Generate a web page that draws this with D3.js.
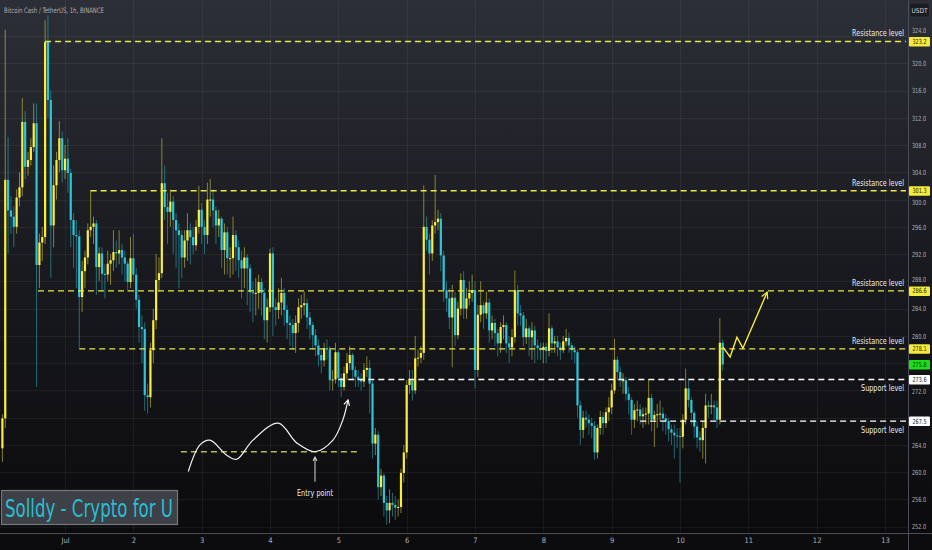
<!DOCTYPE html>
<html>
<head>
<meta charset="utf-8">
<script src="https://cdn.jsdelivr.net/npm/d3@7/dist/d3.min.js"></script>
<style>
  body { margin: 0; background: #000; }
  svg { display: block; }
</style>
</head>
<body>
<div id="chart"></div>
<script>
// ---- data ----
const symbolTitle = "Bitcoin Cash / TetherUS, 1h, BINANCE";
const quoteCurrency = "USDT";
const watermark = "Solldy - Crypto for U";
const firstCandle = Date.UTC(2023, 5, 30, 2); // 1h candles from here
const firstOpen = 263.5;

const closes = [
  267.9, 302.9, 298.4, 297.5, 296.0, 300.3, 301.8, 311.4, 304.8, 305.8,
  307.7, 311.2, 290.4, 293.7, 294.5, 323.1, 314.6, 296.2, 302.1, 305.8,
  309.0, 304.3, 306.0, 303.9, 297.0, 294.8, 294.6, 285.7, 289.5, 291.5,
  295.5, 296.0, 296.5, 290.1, 292.1, 289.1, 289.0, 290.6, 291.1, 292.3,
  292.1, 292.6, 291.5, 290.6, 287.9, 291.4, 289.0, 285.3, 281.3, 281.0,
  271.3, 271.0, 277.9, 282.3, 288.2, 289.2, 302.4, 298.9, 298.2, 299.7,
  297.0, 295.5, 294.8, 291.5, 294.0, 295.5, 294.5, 293.3, 296.0, 298.5,
  296.0, 294.8, 300.0, 300.0, 298.4, 296.2, 297.2, 292.6, 295.2, 291.4,
  291.4, 294.8, 293.0, 291.1, 289.9, 291.5, 289.9, 286.4, 286.3, 286.3,
  287.9, 286.3, 282.3, 284.2, 292.1, 284.2, 283.8, 284.9, 286.3, 283.8,
  281.9, 281.6, 280.4, 281.9, 284.2, 284.5, 284.8, 282.7, 281.6, 280.1,
  278.6, 277.2, 276.4, 278.2, 278.0, 273.5, 273.6, 277.6, 273.8, 272.5,
  274.5, 276.0, 277.2, 275.0, 274.0, 273.5, 273.3, 275.0, 275.3, 273.0,
  264.2, 265.5, 257.8, 259.5, 255.5, 254.4, 255.5, 255.2, 254.8, 254.9,
  259.9, 262.9, 272.8, 273.5, 272.0, 276.7, 276.8, 277.5, 296.0, 294.1,
  292.1, 296.2, 296.7, 297.2, 291.8, 286.7, 285.5, 282.7, 285.6, 280.1,
  284.0, 288.2, 284.0, 285.5, 286.3, 286.7, 275.0, 283.1, 284.5, 283.3,
  284.9, 280.8, 281.9, 280.4, 278.9, 281.3, 281.6, 278.9, 278.3, 279.8,
  286.7, 283.3, 283.0, 279.8, 281.1, 279.8, 280.8, 278.6, 278.2, 277.9,
  278.4, 277.8, 281.1, 278.9, 279.2, 278.3, 277.9, 279.2, 279.7, 278.6,
  277.9, 277.6, 269.8, 266.2, 268.0, 267.7, 267.2, 266.8, 262.9, 266.5,
  268.1, 267.2, 268.8, 269.5, 272.0, 276.5, 274.7, 273.5, 273.5, 271.5,
  270.6, 267.7, 269.1, 269.2, 268.2, 268.5, 268.6, 270.9, 267.7, 268.4,
  268.5, 268.6, 267.9, 267.5, 266.3, 265.8, 265.4, 265.3, 265.2, 267.7,
  272.3, 270.6, 268.7, 266.7, 265.1, 264.7, 266.5, 269.8, 269.6, 269.8,
  269.5, 267.7, 279.0, 275.8
];
const highs = [
  268.5, 324.9, 309.2, 300.5, 299.0, 301.5, 304.0, 314.9, 313.0, 307.0,
  309.0, 314.1, 314.1, 295.0, 296.0, 326.3, 327.0, 316.0, 305.0, 307.0,
  311.5, 310.0, 308.0, 309.0, 304.5, 298.0, 297.0, 295.5, 291.0, 292.5,
  296.5, 301.4, 297.5, 297.0, 293.0, 293.0, 290.5, 292.5, 292.0, 295.5,
  294.0, 295.5, 293.5, 292.5, 291.0, 294.5, 295.0, 290.0, 286.0, 283.0,
  282.0, 273.0, 279.0, 284.0, 292.0, 291.5, 309.0, 305.0, 301.0, 301.5,
  300.5, 298.0, 296.5, 295.5, 295.5, 298.0, 296.5, 296.0, 297.0, 302.0,
  299.5, 297.0, 302.5, 303.0, 301.5, 299.0, 298.5, 297.5, 296.5, 296.0,
  293.0, 297.5, 295.5, 294.0, 292.5, 293.0, 292.0, 290.5, 288.0, 288.5,
  289.0, 288.5, 287.0, 285.5, 292.8, 293.0, 285.5, 287.0, 288.5, 287.0,
  284.5, 283.0, 282.5, 283.0, 285.5, 286.0, 286.5, 285.5, 283.5, 282.0,
  281.0, 279.5, 278.0, 279.0, 279.5, 278.5, 275.0, 279.0, 278.0, 274.5,
  275.5, 277.5, 278.5, 277.5, 275.5, 275.0, 274.5, 276.0, 277.0, 276.5,
  273.5, 266.5, 266.0, 260.5, 259.8, 256.5, 257.5, 257.0, 256.5, 256.0,
  260.5, 264.0, 273.5, 275.0, 275.0, 280.0, 278.0, 278.5, 302.1, 297.5,
  295.0, 297.0, 303.6, 298.5, 298.0, 292.5, 288.0, 287.0, 287.5, 286.5,
  285.0, 289.2, 289.5, 287.0, 288.0, 289.0, 288.0, 284.5, 288.0, 285.0,
  286.5, 285.5, 283.0, 282.5, 281.0, 282.0, 283.0, 282.0, 280.0, 281.0,
  289.6, 287.5, 284.5, 283.5, 282.5, 281.5, 282.0, 281.5, 279.5, 279.0,
  279.0, 279.0, 283.3, 281.5, 280.0, 280.0, 279.0, 280.0, 281.0, 280.5,
  279.0, 278.5, 278.0, 270.5, 269.0, 269.0, 268.5, 268.0, 267.5, 267.0,
  269.0, 268.8, 269.5, 271.0, 273.0, 279.6, 277.0, 275.5, 274.5, 274.0,
  272.5, 271.0, 270.0, 270.5, 270.0, 269.5, 269.5, 273.6, 271.5, 269.0,
  270.0, 270.5, 269.5, 268.5, 268.0, 267.0, 267.0, 266.5, 266.5, 268.5,
  275.2, 273.5, 271.0, 269.0, 267.5, 266.0, 267.5, 271.5, 270.5, 271.5,
  270.5, 270.5, 282.6, 279.5
];
const lows = [
  261.5, 266.5, 292.1, 295.0, 293.0, 295.0, 299.0, 300.5, 303.0, 303.5,
  305.0, 307.0, 272.5, 287.0, 291.0, 293.5, 312.0, 288.5, 293.0, 300.0,
  304.0, 302.5, 303.0, 301.0, 293.0, 290.0, 287.0, 278.2, 283.5, 287.0,
  290.5, 294.5, 293.5, 286.0, 288.0, 286.5, 285.5, 288.0, 287.5, 289.5,
  290.0, 290.5, 289.0, 288.0, 286.5, 287.0, 288.0, 284.0, 279.0, 276.0,
  269.0, 268.6, 269.5, 276.0, 281.0, 286.5, 288.5, 297.0, 293.5, 296.0,
  292.0, 290.0, 287.0, 288.5, 290.0, 291.0, 290.5, 292.0, 292.5, 295.0,
  293.5, 292.0, 293.5, 297.5, 296.0, 293.5, 294.5, 290.0, 289.0, 289.0,
  288.5, 289.0, 289.5, 288.5, 285.5, 287.0, 284.5, 283.5, 282.0, 283.0,
  284.0, 283.0, 279.5, 279.0, 283.5, 280.0, 281.5, 282.5, 283.0, 281.5,
  279.5, 278.5, 278.0, 277.5, 280.5, 282.5, 283.0, 281.0, 279.5, 278.0,
  277.0, 275.5, 274.5, 275.5, 276.5, 272.0, 272.0, 273.0, 272.5, 271.0,
  272.0, 273.5, 275.0, 273.5, 272.5, 272.5, 272.0, 272.5, 274.0, 268.6,
  262.0, 262.5, 256.0, 256.5, 253.5, 252.3, 252.5, 253.5, 253.0, 253.5,
  254.0, 258.5, 262.0, 271.5, 270.5, 271.5, 275.5, 276.0, 276.5, 292.5,
  289.0, 291.0, 295.0, 295.5, 289.5, 285.0, 283.5, 281.0, 275.4, 278.5,
  279.5, 283.0, 282.5, 282.5, 284.5, 285.0, 272.3, 274.0, 282.0, 281.0,
  282.5, 279.0, 279.5, 278.5, 277.0, 277.5, 279.5, 277.5, 276.0, 277.0,
  279.0, 281.5, 281.5, 278.5, 278.8, 277.0, 276.5, 276.0, 276.5, 276.5,
  276.0, 276.0, 277.0, 277.5, 277.5, 277.0, 276.5, 277.5, 278.5, 277.5,
  276.5, 276.0, 268.0, 264.0, 265.0, 266.5, 265.5, 265.0, 261.8, 262.0,
  265.5, 265.5, 266.5, 267.5, 268.5, 271.5, 273.5, 272.5, 271.5, 270.5,
  268.5, 265.5, 266.5, 267.5, 267.0, 266.5, 267.0, 267.0, 266.0, 263.7,
  266.5, 267.5, 266.0, 265.5, 264.5, 264.0, 262.0, 263.5, 258.5, 263.5,
  267.0, 269.5, 267.0, 265.0, 263.5, 263.0, 262.0, 261.3, 268.0, 268.5,
  267.5, 266.5, 267.0, 274.9
];

const priceTicks = [252, 256, 260, 264, 268, 272, 276, 280, 284, 288, 292, 296, 300, 304, 308, 312, 316, 320, 324];
const dayTicks = [1, 2, 3, 4, 5, 6, 7, 8, 9, 10, 11, 12, 13].map(d => new Date(Date.UTC(2023, 6, d)));

// drawn levels: price, kind, start time
const levelPrices = [323.2, 301.3, 286.6, 278.1, 273.6, 267.5];
const levelKinds = ["resistance", "resistance", "resistance", "resistance", "support", "support"];
const levelStarts = [
  Date.UTC(2023, 5, 30, 17), Date.UTC(2023, 6, 1, 9), Date.UTC(2023, 5, 30, 14, 30),
  Date.UTC(2023, 6, 1, 5), Date.UTC(2023, 6, 5, 0), Date.UTC(2023, 6, 9, 10)
];
const lastPrice = 275.8;

// hand drawn annotations, [hours since 30 Jun 00:00, price]
const wavePath = [[67.3, 260.1], [71.4, 264.0], [74.9, 264.7], [80.8, 262.5], [84.3, 261.9], [90.0, 264.7],
  [98.9, 267.2], [105.4, 264.3], [111.8, 263.0], [118.1, 264.7], [121.6, 267.7], [123.4, 270.6]];
const entryLevel = { price: 263.0, from: 64.7, to: 126.9 };
const entryArrow = { at: 111.8, tip: 262.2, tail: 258.6, label: "Entry point" };
const projection = [[255.1, 278.35], [257.6, 276.9], [260.0, 279.8], [262.1, 278.2], [270.6, 286.4]];

// ---- chart ----
const width = 932, height = 550;
const plotRight = 908, plotBottom = 533;
const hourMs = 3600e3;
const t0 = Date.UTC(2023, 5, 30);

const svg = d3.select("#chart").append("svg").attr("width", width).attr("height", height);

const x = d3.scaleUtc().domain([t0, Date.UTC(2023, 6, 14)]).range([-3.3, 953.3]);
const y = d3.scaleLinear().domain([251.08, 329.28]).range([plotBottom, 0]);
const xh = h => x(t0 + h * hourMs);

const defs = svg.append("defs");
const grad = defs.append("linearGradient").attr("id", "bg").attr("x1", 0).attr("y1", 0).attr("x2", 0).attr("y2", 1);
grad.append("stop").attr("offset", "0%").attr("stop-color", "#2c2f37");
grad.append("stop").attr("offset", "45%").attr("stop-color", "#1a1b20");
grad.append("stop").attr("offset", "100%").attr("stop-color", "#0a0a0c");

svg.append("rect").attr("width", width).attr("height", height).attr("fill", "url(#bg)");
svg.append("rect").attr("y", plotBottom).attr("width", width).attr("height", height - plotBottom).attr("fill", "#0c0c0f");

const font = "'Liberation Sans Narrow', 'DejaVu Sans Condensed', sans-serif";

// text squeezed horizontally to a given width (the original uses a narrow UI font)
function fitText(parent, tx, ty, str, size, w, anchor, color) {
  const g = parent.append("g");
  const t = g.append("text").attr("font-family", font).attr("font-size", size)
    .attr("text-anchor", anchor).attr("fill", color).text(str);
  const k = Math.min(1, w / t.node().getComputedTextLength());
  g.attr("transform", `translate(${tx},${ty}) scale(${k},1)`);
  return t;
}

// grid
const grid = svg.append("g").attr("stroke", "#ffffff").attr("stroke-opacity", 0.055).attr("stroke-width", 1);
grid.selectAll(".gx").data(dayTicks).join("line")
  .attr("x1", d => Math.round(x(d)) + 0.5).attr("x2", d => Math.round(x(d)) + 0.5)
  .attr("y1", 0).attr("y2", plotBottom);
grid.selectAll(".gy").data(priceTicks).join("line")
  .attr("x1", 0).attr("x2", plotRight)
  .attr("y1", d => Math.round(y(d)) + 0.5).attr("y2", d => Math.round(y(d)) + 0.5);

// candles
const candles = closes.map((c, i) => ({
  t: firstCandle + i * hourMs,
  o: i === 0 ? firstOpen : closes[i - 1],
  h: highs[i], l: lows[i], c
}));
const upCol = "#fbee3a", downCol = "#2cc5da";
const cg = svg.append("g");
cg.selectAll(".wick").data(candles).join("line")
  .attr("x1", d => x(d.t)).attr("x2", d => x(d.t))
  .attr("y1", d => y(d.h)).attr("y2", d => y(d.l))
  .attr("stroke", d => d.c >= d.o ? upCol : downCol)
  .attr("stroke-opacity", 0.55).attr("stroke-width", 0.9);
cg.selectAll(".body").data(candles).join("rect")
  .attr("x", d => x(d.t) - 1.1).attr("width", 2.2)
  .attr("y", d => y(Math.max(d.o, d.c)))
  .attr("height", d => Math.max(1, Math.abs(y(d.o) - y(d.c))))
  .attr("fill", d => d.c >= d.o ? upCol : downCol);

// levels
const levels = levelPrices.map((p, i) => ({ p, kind: levelKinds[i], from: levelStarts[i] }));
const lg = svg.append("g");
lg.selectAll("line").data(levels).join("line")
  .attr("x1", d => x(d.from)).attr("x2", plotRight - 2)
  .attr("y1", d => y(d.p)).attr("y2", d => y(d.p))
  .attr("stroke", d => d.kind === "resistance" ? "#e9e54a" : "#ffffff")
  .attr("stroke-width", 1.4).attr("stroke-dasharray", "6,4");
levels.forEach(d => {
  const res = d.kind === "resistance";
  fitText(lg, plotRight - 4, res ? y(d.p) - 5 : y(d.p) + 11.5,
    res ? "Resistance level" : "Support level", 9.5, res ? 52 : 43, "end", "#ececee");
});

// entry annotation
svg.append("line")
  .attr("x1", xh(entryLevel.from)).attr("x2", xh(entryLevel.to))
  .attr("y1", y(entryLevel.price)).attr("y2", y(entryLevel.price))
  .attr("stroke", "#b9b84e").attr("stroke-width", 1.3).attr("stroke-dasharray", "6,4");

function arrowHead(g, tip, from, color, len) {
  const a = Math.atan2(tip[1] - from[1], tip[0] - from[0]);
  const pts = [a + Math.PI - 0.5, a + Math.PI + 0.5].map(b => [tip[0] + len * Math.cos(b), tip[1] + len * Math.sin(b)]);
  g.append("path")
    .attr("d", `M${pts[0][0]},${pts[0][1]}L${tip[0]},${tip[1]}L${pts[1][0]},${pts[1][1]}`)
    .attr("fill", "none").attr("stroke", color).attr("stroke-width", 1.2);
}

const ann = svg.append("g");
const wavePx = wavePath.map(d => [xh(d[0]), y(d[1])]);
ann.append("path")
  .attr("d", d3.line().curve(d3.curveCatmullRom.alpha(0.5))(wavePx))
  .attr("fill", "none").attr("stroke", "#f2f2f2").attr("stroke-width", 1.2);
arrowHead(ann, wavePx[wavePx.length - 1], wavePx[wavePx.length - 2], "#f2f2f2", 6);

const ex = xh(entryArrow.at);
ann.append("line").attr("x1", ex).attr("x2", ex)
  .attr("y1", y(entryArrow.tip)).attr("y2", y(entryArrow.tail))
  .attr("stroke", "#d8d8d8").attr("stroke-width", 1);
arrowHead(ann, [ex, y(entryArrow.tip)], [ex, y(entryArrow.tail)], "#d8d8d8", 4);
fitText(ann, ex, y(entryArrow.tail) + 14, entryArrow.label, 9.5, 36, "middle", "#ececee");

const projPx = projection.map(d => [xh(d[0]), y(d[1])]);
ann.append("path").attr("d", d3.line()(projPx))
  .attr("fill", "none").attr("stroke", "#f7ec3a").attr("stroke-width", 1.4);
arrowHead(ann, projPx[projPx.length - 1], projPx[projPx.length - 2], "#f7ec3a", 7);

// axes
svg.append("line").attr("x1", plotRight + 0.5).attr("x2", plotRight + 0.5).attr("y1", 0).attr("y2", height)
  .attr("stroke", "#4a4d57").attr("stroke-width", 1);
svg.append("line").attr("x1", 0).attr("x2", width).attr("y1", plotBottom + 0.5).attr("y2", plotBottom + 0.5)
  .attr("stroke", "#4a4d57").attr("stroke-width", 1);

// tick labels hidden under a price tag (as the original does), others nudged clear of the tags
const tagPrices = levelPrices.concat([lastPrice]);
const gap = 11.5;
const nearestTag = d => tagPrices.reduce((best, p) => Math.abs(y(p) - y(d)) < Math.abs(y(best) - y(d)) ? p : best);
const tickVisible = d => Math.abs(y(nearestTag(d)) - y(d)) > 4 || d === 324;
const tickShift = d => {
  const dd = y(d) - y(nearestTag(d));
  return Math.abs(dd) >= gap ? 0 : (dd >= 0 ? gap - dd : -gap - dd);
};
const yAxis = svg.append("g").attr("transform", `translate(${plotRight},0)`)
  .call(d3.axisRight(y).tickValues(priceTicks.filter(tickVisible)).tickFormat(d3.format(".1f")).tickSize(0).tickPadding(4));
yAxis.select(".domain").remove();
yAxis.selectAll("text").attr("font-family", font).attr("font-size", 7).attr("fill", "#aeb1ba")
  .attr("textLength", 14).attr("lengthAdjust", "spacingAndGlyphs")
  .attr("y", d => tickShift(d)).attr("dy", "0.32em");

const xAxis = svg.append("g").attr("transform", `translate(0,${plotBottom})`)
  .call(d3.axisBottom(x).tickValues(dayTicks)
    .tickFormat(d => { const day = new Date(d).getUTCDate(); return day === 1 ? "Jul" : String(day); })
    .tickSize(0).tickPadding(5));
xAxis.select(".domain").remove();
xAxis.selectAll("text").attr("font-family", font).attr("font-size", 7.5).attr("fill", "#aeb1ba");

// price tags on axis
const tags = levels.map(d => ({ p: d.p, fill: d.kind === "resistance" ? "#f5eb3b" : "#ffffff" }));
tags.push({ p: lastPrice, fill: "#19e019" });
const tg = svg.append("g").selectAll("g").data(tags).join("g")
  .attr("transform", d => `translate(${plotRight + 1},${y(d.p)})`);
tg.append("rect").attr("x", 0).attr("y", -4.5).attr("width", 21).attr("height", 9.5).attr("rx", 1).attr("fill", d => d.fill);
tg.append("text").attr("x", 10.5).attr("y", 0).attr("dy", "0.35em").attr("text-anchor", "middle")
  .attr("font-family", font).attr("font-size", 7).attr("textLength", 14).attr("lengthAdjust", "spacingAndGlyphs")
  .attr("fill", "#1a1a1a").text(d => d3.format(".1f")(d.p));

// currency box
svg.append("rect").attr("x", plotRight + 1.5).attr("y", 3).attr("width", 20).attr("height", 14).attr("rx", 2)
  .attr("fill", "#1b1d23").attr("stroke", "#3b3e47").attr("stroke-width", 0.6);
svg.append("text").attr("x", plotRight + 11.5).attr("y", 12.5).attr("text-anchor", "middle")
  .attr("font-family", font).attr("font-size", 6.5).attr("fill", "#d6d8de").text(quoteCurrency);

// title
fitText(svg, 4, 13, symbolTitle, 7.5, 100, "start", "#a9acb5");

// watermark
svg.append("rect").attr("x", 1.5).attr("y", 490.5).attr("width", 176).attr("height", 34)
  .attr("fill", "#474a50").attr("fill-opacity", 0.85).attr("stroke", "#74777c").attr("stroke-width", 1.2);
fitText(svg, 5, 517, watermark, 25, 168, "start", "#2bbdd3");
</script>
</body>
</html>
